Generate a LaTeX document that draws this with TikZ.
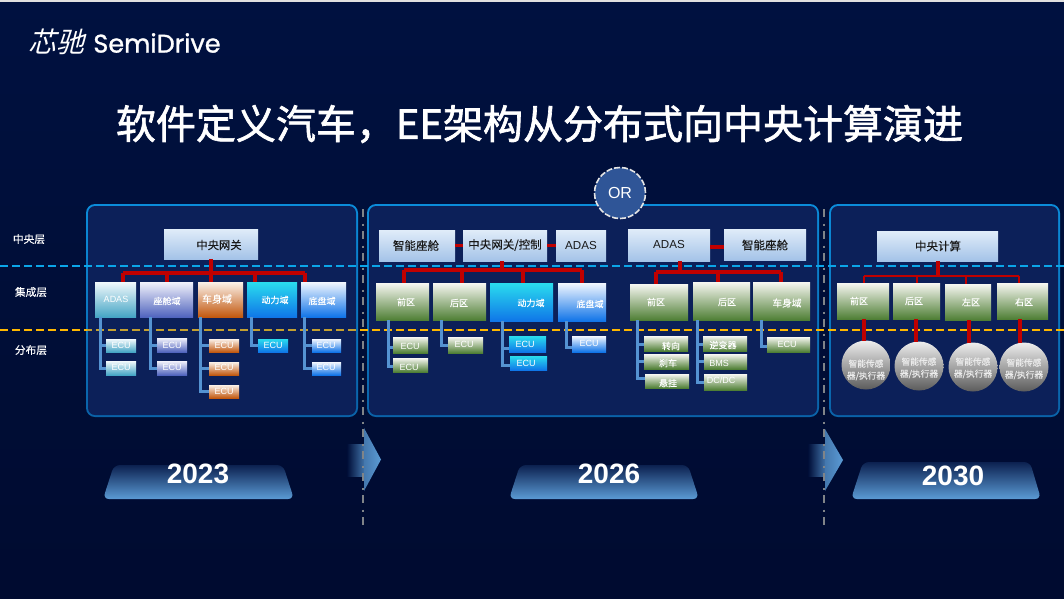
\documentclass[tikz,border=0pt]{standalone}
\usepackage{fontspec}
\setmainfont{Liberation Sans}
\newfontfamily\cjk[FakeBold=0.2]{Noto Sans CJK SC}
\newfontfamily\cjktitle[FakeBold=1.6]{Noto Sans CJK SC}
\newfontfamily\cjklogo[FakeSlant=0.25]{Noto Sans CJK SC}
\newfontfamily\logof[FakeBold=1.1]{Poppins}
\usetikzlibrary{calc}
\definecolor{bgt}{HTML}{001140}
\definecolor{bgb}{HTML}{000B30}
\definecolor{bgc}{HTML}{000E38}
\definecolor{panelc}{HTML}{0C2059}
\definecolor{panelt}{HTML}{0B8CDA}
\definecolor{panelu}{HTML}{0A62A8}
\definecolor{redc}{HTML}{C00000}
\definecolor{stemc}{HTML}{5593D2}
\definecolor{gwt}{HTML}{E0ECF9}\definecolor{gwb}{HTML}{A4C3E8}
\definecolor{grt}{HTML}{F7F7F2}\definecolor{grb}{HTML}{4F7F35}
\definecolor{adt}{HTML}{F2F9FC}\definecolor{adb}{HTML}{45A5C5}
\definecolor{cot}{HTML}{F2F2FB}\definecolor{cob}{HTML}{5064BE}
\definecolor{bot}{HTML}{FBF1E9}\definecolor{bob}{HTML}{C2580F}
\definecolor{pwt}{HTML}{2ADCEE}\definecolor{pwb}{HTML}{0F76E8}
\definecolor{cht}{HTML}{F2F7FF}\definecolor{chb}{HTML}{1074E8}
\definecolor{arrc}{HTML}{5B9BD5}
\definecolor{yrt}{HTML}{0C2150}
\definecolor{sent}{HTML}{EDEDED}\definecolor{senb}{HTML}{5C5C5C}
\definecolor{orc}{HTML}{2F5597}
\definecolor{lineb}{HTML}{0BA5E8}
\definecolor{liney}{HTML}{FFB800}
\definecolor{linez}{HTML}{C4A030}
\definecolor{divc}{HTML}{808488}
\tikzset{
  x=1pt,y=-1pt,
  panelrim/.style={top color=panelt,bottom color=panelu,rounded corners=9pt},
  panelfill/.style={fill=panelc,rounded corners=7pt},
  boxn/.style={inner sep=0pt,outer sep=0pt,draw=none},
  redl/.style={draw=redc,line width=3.2pt},
  redthin/.style={draw=redc,line width=2.7pt},
  stemline/.style={draw=stemc,line width=3pt,line join=miter},
  lbl/.style={inner sep=0pt,outer sep=0pt,align=center},
  layerline/.style={draw=#1,line width=1.7pt,dash pattern=on 8pt off 4pt},
  yearshape/.style={top color=yrt,bottom color=arrc,rounded corners=6pt},
  sensor/.style={circle,inner sep=0pt,outer sep=0pt,minimum size=49pt,top color=sent,bottom color=senb},
  divider/.style={draw=divc,line width=2.4pt,dash pattern=on 7.5pt off 7pt on 2pt off 5.5pt},
}
\newcommand\rbox[7]{\node[boxn,top color=#6,bottom color=#7,minimum width={(#4-#2)*1pt},minimum height={(#5-#3)*1pt}] (#1) at ({(#2+#4)/2},{(#3+#5)/2}) {};}
\newcount\lblno
\newcommand\lab[5]{\global\advance\lblno by 1\node[lbl,text=#4,font={\fontsize{#3}{#3}\selectfont}] (t\the\lblno) at (#1,#2) {#5};}
\newcommand\cj[5]{\global\advance\lblno by 1\node[lbl,text=#4,font={\cjk\fontsize{#3}{#3}\selectfont}] (t\the\lblno) at (#1,#2) {#5};}
\newcommand\sens[3]{\global\advance\lblno by 1\node[lbl,text=white!92!black,font={\cjk\fontsize{8.7}{12}\selectfont}] (t\the\lblno) at (#1,#2) {#3};}
\newcommand\drop[3]{\draw[redl] (#1,#2) -- (#1,#2 |- #3.north);}
\newcommand\dropthin[3]{\draw[redthin] (#1,#2) -- (#1,#2 |- #3.north);}
\newcommand\branch[4]{\draw[stemline] (#1.south -| #2,0) |- ([yshift=#4pt]#3.west);}
\newcommand\panelbox[4]{\shade[panelrim] ({#1-1},{#2-1}) rectangle ({#3+1},{#4+1});\fill[panelfill] ({#1+1},{#2+1}) rectangle ({#3-1},{#4-1});}
\begin{document}
\begin{tikzpicture}
\useasboundingbox (0,0) rectangle (1064,598);
\shade[top color=bgt,bottom color=bgb] (0,0) rectangle (1064,598);
\fill[white!88!black] (0,0) rectangle (1064,1.7);
% logo and title
\node[lbl,text=white,font={\cjklogo\fontsize{28}{28}\selectfont}] (logoa) at (56,42) {芯驰};
\node[lbl,text=white,font={\logof\fontsize{25.5}{25.5}\selectfont}] (logob) at (157,43) {SemiDrive};
\node[lbl,text=white,font={\cjktitle\fontsize{40}{40}\selectfont}] (title) at (539.5,124) {软件定义汽车\char"FF0C EE架构从分布式向中央计算演进};
% panels
\panelbox{87}{205}{357}{416}
\panelbox{368}{205}{818}{416}
\panelbox{830}{205}{1059}{416}
% layer lines
\coordinate (la) at (0,266);\coordinate (lb) at (1064,266);
\coordinate (lc) at (0,330);\coordinate (ld) at (1064,330);
\draw[layerline=lineb] (la) -- (lb);
\draw[layerline=liney] (lc) -- (ld);
\begin{scope}
\clip (87,320) rectangle (357,340);
\draw[layerline=linez] (lc) -- (ld);
\end{scope}
% arrows
\shade[left color=bgc,right color=arrc!70!bgc] (347,444) rectangle (364,476);
\shade[left color=arrc!75!bgc,right color=arrc] (364,428) -- (381,459.5) -- (364,491) -- cycle;
\shade[left color=bgc,right color=arrc!70!bgc] (808,444) rectangle (825,476);
\shade[left color=arrc!75!bgc,right color=arrc] (825,429) -- (843,460) -- (825,491) -- cycle;
\coordinate (d1a) at (363,209);\coordinate (d1b) at (363,526);
\coordinate (d2a) at (824,209);\coordinate (d2b) at (824,526);
\draw[divider] (d1a) -- (d1b);
\draw[divider] (d2a) -- (d2b);
% year tabs
\shade[yearshape] (103,499) -- (114,465) -- (283,465) -- (294,499) -- cycle;
\shade[yearshape] (509,499) -- (520,465) -- (688,465) -- (699,499) -- cycle;
\shade[yearshape] (851,499) -- (863,462) -- (1030,462) -- (1041,499) -- cycle;
\node[lbl,text=white,font={\bfseries\fontsize{28}{28}\selectfont}] (y23) at (198,474) {2023};
\node[lbl,text=white,font={\bfseries\fontsize{28}{28}\selectfont}] (y26) at (609,474) {2026};
\node[lbl,text=white,font={\bfseries\fontsize{28}{28}\selectfont}] (y30) at (953,476) {2030};
% OR
\node[circle,minimum size=51pt,inner sep=0pt,fill=orc,draw=white!90!black,line width=1.6pt,dash pattern=on 6pt off 2pt] (or) at (620,193) {};
\lab{620}{193}{16}{white}{OR}
% layer names
\cj{29}{239}{10.7}{white}{中央层}
\cj{31}{292}{10.7}{white}{集成层}
\cj{31}{350}{10.7}{white}{分布层}
% ---------- panel 1
\rbox{gw}{164}{229}{258}{259}{gwt}{gwb}
\rbox{adas}{95}{282}{136}{317}{adt}{adb}
\rbox{cock}{140}{282}{193}{317}{cot}{cob}
\rbox{body}{198}{282}{243}{317}{bot}{bob}
\rbox{powr}{247}{282}{297}{317}{pwt}{pwb}
\rbox{chas}{301}{282}{346}{317}{cht}{chb}
\rbox{ea1}{106}{339}{136}{352}{adt}{adb}
\rbox{ea2}{106}{361}{136}{375}{adt}{adb}
\rbox{ec1}{157}{338}{187}{352}{cot}{cob}
\rbox{ec2}{157}{361}{187}{375}{cot}{cob}
\rbox{eb1}{209}{339}{239}{352}{bot}{bob}
\rbox{eb2}{209}{362}{239}{375}{bot}{bob}
\rbox{eb3}{209}{385}{239}{398}{bot}{bob}
\rbox{ep1}{258}{339}{288}{352}{pwt}{pwb}
\rbox{eh1}{312}{339}{341}{352}{cht}{chb}
\rbox{eh2}{312}{362}{341}{375}{cht}{chb}
\coordinate (b1l) at (123,273);\coordinate (b1r) at (305,273);
\draw[redl] (gw.south -| 211,0) -- (211,0 |- b1l);
\draw[redl] (b1l) -- (b1r);
\drop{123}{273}{adas}\drop{167}{273}{cock}\drop{211}{273}{body}\drop{255}{273}{powr}\drop{305}{273}{chas}
\branch{adas}{100}{ea1}{0}\branch{adas}{100}{ea2}{0}
\branch{cock}{150}{ec1}{0}\branch{cock}{150}{ec2}{0}
\branch{body}{200}{eb1}{0}\branch{body}{200}{eb2}{0}\branch{body}{200}{eb3}{0}
\branch{powr}{251}{ep1}{0}
\branch{chas}{304}{eh1}{0}\branch{chas}{304}{eh2}{0}
\cj{219}{245}{11.3}{black!90}{中央网关}
\lab{116}{299}{9}{white}{ADAS}
\cj{167}{301}{9}{white}{座舱域}
\cj{217}{299}{10}{white}{车身域}
\cj{275}{300}{9}{white}{动力域}
\cj{322}{301}{9}{white}{底盘域}
\lab{121}{345}{9}{white}{ECU}\lab{121}{367}{9}{white}{ECU}
\lab{172}{345}{9}{white}{ECU}\lab{172}{367}{9}{white}{ECU}
\lab{224}{345}{9}{white}{ECU}\lab{224}{367}{9}{white}{ECU}\lab{224}{391}{9}{white}{ECU}
\lab{273}{345}{9}{white}{ECU}
\lab{326}{345}{9}{white}{ECU}\lab{326}{367}{9}{white}{ECU}
% ---------- panel 2
\rbox{cab}{379}{230}{455}{261}{gwt}{gwb}
\rbox{gc}{463}{230}{547}{261}{gwt}{gwb}
\rbox{adb}{556}{230}{606}{261}{gwt}{gwb}
\rbox{adc}{628}{229}{710}{261}{gwt}{gwb}
\rbox{cac}{724}{229}{806}{260}{gwt}{gwb}
\rbox{fa}{376}{283}{429}{320}{grt}{grb}
\rbox{ra}{433}{283}{486}{320}{grt}{grb}
\rbox{pa}{490}{283}{553}{321}{pwt}{pwb}
\rbox{sa}{558}{283}{606}{321}{cht}{chb}
\rbox{fb}{630}{284}{688}{320}{grt}{grb}
\rbox{rb}{693}{282}{750}{320}{grt}{grb}
\rbox{bb}{753}{282}{810}{320}{grt}{grb}
\rbox{ef1}{393}{337}{428}{353}{grt}{grb}
\rbox{ef2}{393}{358}{428}{372}{grt}{grb}
\rbox{er1}{448}{337}{483}{353}{grt}{grb}
\rbox{eo1}{509}{336}{546}{352}{pwt}{pwb}
\rbox{eo2}{510}{356}{547}{370}{pwt}{pwb}
\rbox{es1}{572}{336}{606}{352}{cht}{chb}
\rbox{st}{644}{336}{688}{351}{grt}{grb}
\rbox{br}{644}{354}{689}{369}{grt}{grb}
\rbox{su}{645}{374}{689}{388}{grt}{grb}
\rbox{iv}{703}{336}{747}{351}{grt}{grb}
\rbox{bm}{704}{354}{747}{369}{grt}{grb}
\rbox{dc}{704}{374}{747}{390}{grt}{grb}
\rbox{eb}{767}{337}{810}{352}{grt}{grb}
\draw[redl] (cab.east) -- (gc.west);
\draw[redl] (gc.east) -- (adb.west);
\draw[redl] (adc.east |- 0,247) -- (cac.west |- 0,247);
\coordinate (b2l) at (404,270);\coordinate (b2r) at (582,270);
\draw[redl] (gc.south -| 502,0) -- (502,0 |- b2l);
\draw[redl] (b2l) -- (b2r);
\drop{404}{270}{fa}\drop{462}{270}{ra}\drop{523}{270}{pa}\drop{582}{270}{sa}
\coordinate (b3l) at (656,272);\coordinate (b3r) at (781,272);
\draw[redl] (adc.south -| 680,0) -- (680,0 |- b3l);
\draw[redl] (b3l) -- (b3r);
\drop{656}{272}{fb}\drop{718}{272}{rb}\drop{781}{272}{bb}
\branch{fa}{388}{ef1}{-2}\branch{fa}{388}{ef2}{-1}
\branch{ra}{441}{er1}{0}
\branch{pa}{502}{eo1}{-4}\branch{pa}{502}{eo2}{-2}
\branch{sa}{566}{es1}{-3}
\branch{fb}{637}{st}{-1}\branch{fb}{637}{br}{0}\branch{fb}{637}{su}{3}
\branch{rb}{697}{iv}{-1}\branch{rb}{697}{bm}{0}\branch{rb}{697}{dc}{0}
\branch{bb}{761}{eb}{-2}
\cj{416}{245.5}{11.5}{black!90}{智能座舱}
\cj{505}{245}{11.5}{black!90}{中央网关/控制}
\lab{581}{245.5}{11.6}{black!90}{ADAS}
\lab{669}{244.5}{11.6}{black!90}{ADAS}
\cj{765}{245}{11.5}{black!90}{智能座舱}
\cj{406}{302}{9}{white}{前区}
\cj{459}{303}{9}{white}{后区}
\cj{531}{303}{9}{white}{动力域}
\cj{590}{304}{9}{white}{底盘域}
\cj{656}{302}{9}{white}{前区}
\cj{727}{302}{9}{white}{后区}
\cj{787}{303}{9.7}{white}{车身域}
\lab{410}{346}{9}{white}{ECU}\lab{409}{367}{9}{white}{ECU}
\lab{464}{344.5}{9}{white}{ECU}
\lab{525}{344.5}{9}{white}{ECU}\lab{526}{363}{9}{white}{ECU}
\lab{589}{343.5}{9}{white}{ECU}
\cj{671}{346}{9}{white}{转向}
\cj{668}{363}{9}{white}{刹车}
\cj{668}{383}{9}{white}{悬挂}
\cj{723}{345}{9}{white}{逆变器}
\lab{719}{363}{9}{white}{BMS}
\lab{721}{380}{9}{white}{DC/DC}
\lab{787}{344}{9}{white}{ECU}
% ---------- panel 3
\rbox{cc}{877}{231}{998}{261}{gwt}{gwb}
\rbox{f3}{837}{283}{889}{319}{grt}{grb}
\rbox{r3}{893}{283}{940}{319}{grt}{grb}
\rbox{l3}{945}{284}{991}{320}{grt}{grb}
\rbox{g3}{997}{283}{1048}{319}{grt}{grb}
\node[sensor] (s1) at (866,365) {};
\node[sensor] (s2) at (919,366) {};
\node[sensor] (s3) at (973,367) {};
\node[sensor] (s4) at (1024,367) {};
\coordinate (b4l) at (864,276);\coordinate (b4r) at (1019,276);
\draw[redl] (cc.south -| 938,0) -- (938,0 |- b4l);
\draw[redthin] (b4l) -- (b4r);
\dropthin{864}{276}{f3}\dropthin{917}{276}{r3}\dropthin{966}{276}{l3}\dropthin{1019}{276}{g3}
\draw[redl] (f3.south -| 864,0) -- (864,0 |- s1.north);
\draw[redl] (r3.south -| 916,0) -- (916,0 |- s2.north);
\draw[redl] (l3.south -| 969,0) -- (969,0 |- s3.north);
\draw[redl] (g3.south -| 1020,0) -- (1020,0 |- s4.north);
\cj{938}{246}{11.5}{black!90}{中央计算}
\cj{859}{301}{9}{white}{前区}
\cj{914}{301}{9}{white}{后区}
\cj{971}{302}{9}{white}{左区}
\cj{1024}{302}{9}{white}{右区}
\sens{866}{370}{智能传感\\器/执行器}
\sens{919}{368}{智能传感\\器/执行器}
\sens{973}{368}{智能传感\\器/执行器}
\sens{1024}{369}{智能传感\\器/执行器}
\end{tikzpicture}
\end{document}
